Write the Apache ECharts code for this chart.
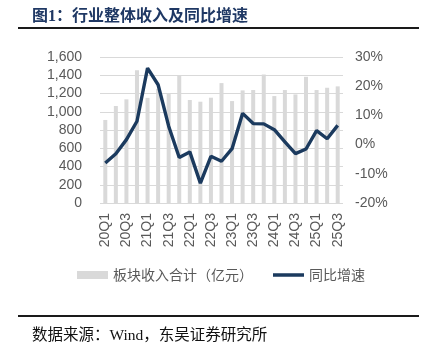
<!DOCTYPE html>
<html>
<head>
<meta charset="utf-8">
<script src="https://cdn.jsdelivr.net/npm/echarts@6/dist/echarts.min.js"></script>
<style>html,body{margin:0;padding:0;background:#fff;}#c{width:432px;height:345px;}</style>
</head>
<body>
<div id="c"></div>
<script>
var categories = ['20Q1','20Q2','20Q3','20Q4','21Q1','21Q2','21Q3','21Q4','22Q1','22Q2','22Q3','22Q4','23Q1','23Q2','23Q3','23Q4','24Q1','24Q2','24Q3','24Q4','25Q1','25Q2','25Q3'];
var revenue = [910,1063,1136,1456,1152,1250,1194,1394,1129,1110,1154,1314,1117,1234,1238,1409,1172,1238,1190,1383,1238,1263,1278];
var growth = [-6.3,-3.1,1.7,8.0,26.2,20.5,6.3,-4.4,-2.5,-13.2,-4.0,-5.7,-1.4,10.7,7.2,7.1,5.1,0.9,-3.1,-1.5,4.8,2.0,6.6];
var leftTicks = {min:0, max:1600, interval:200};
var rightTicks = {min:-20, max:30, interval:10};
var seriesNames = ['板块收入合计（亿元）','同比增速'];
var titleText = '图1：行业整体收入及同比增速';
var sourceText = '数据来源：Wind，东吴证券研究所';

var chart = echarts.init(document.getElementById('c'), null, {renderer:'canvas'});
var axisFont = {fontFamily:'Liberation Sans', fontSize:14, color:'#595959'};
chart.setOption({
  animation:false,
  title:[
    {text:titleText, left:27, top:4, textStyle:{fontFamily:"'Liberation Serif','Noto Sans CJK SC'", fontWeight:'bold', fontSize:16, color:'#1F3864'}},
    {text:sourceText, left:27, top:323, textStyle:{fontFamily:"'Liberation Serif','Noto Sans CJK SC'", fontWeight:'normal', fontSize:15.5, color:'#111'}}
  ],
  graphic:[
    {type:'line', shape:{x1:18,y1:28,x2:419,y2:28}, style:{stroke:'#1a1a1a', lineWidth:2}},
    {type:'line', shape:{x1:18,y1:316,x2:419,y2:316}, style:{stroke:'#1a1a1a', lineWidth:2}}
  ],
  legend:{
    left:72, top:263, itemWidth:31, itemHeight:8, itemGap:20,
    textStyle:{fontFamily:'Noto Sans CJK SC', fontSize:14, color:'#595959'},
    data:[{name:seriesNames[0], icon:'rect'},{name:seriesNames[1], icon:'path://M0,0H30V3.4H0Z'}]
  },
  grid:{left:100, right:89, top:57, bottom:142, containLabel:false},
  xAxis:{
    type:'category', data:categories, boundaryGap:true,
    axisLine:{show:false}, axisTick:{show:false},
    axisLabel:Object.assign({interval:1, rotate:90, margin:10}, axisFont)
  },
  yAxis:[
    {type:'value', min:leftTicks.min, max:leftTicks.max, interval:leftTicks.interval,
     axisLine:{show:false}, axisTick:{show:false},
     splitLine:{lineStyle:{color:'#D9D9D9', width:1}},
     axisLabel:Object.assign({margin:18, formatter:function(v){return v.toLocaleString('en-US');}}, axisFont)},
    {type:'value', min:rightTicks.min, max:rightTicks.max, interval:rightTicks.interval,
     axisLine:{show:false}, axisTick:{show:false}, splitLine:{show:false},
     axisLabel:Object.assign({margin:12, formatter:function(v){return v+'%';}}, axisFont)}
  ],
  series:[
    {name:seriesNames[0], type:'bar', data:revenue, barWidth:4, yAxisIndex:0, itemStyle:{color:'#D9D9D9'}},
    {name:seriesNames[1], type:'line', data:growth, yAxisIndex:1, symbol:'none', smooth:false,
     lineStyle:{color:'#1B3A5E', width:3.4}, itemStyle:{color:'#1B3A5E'}}
  ]
});
</script>
</body>
</html>
